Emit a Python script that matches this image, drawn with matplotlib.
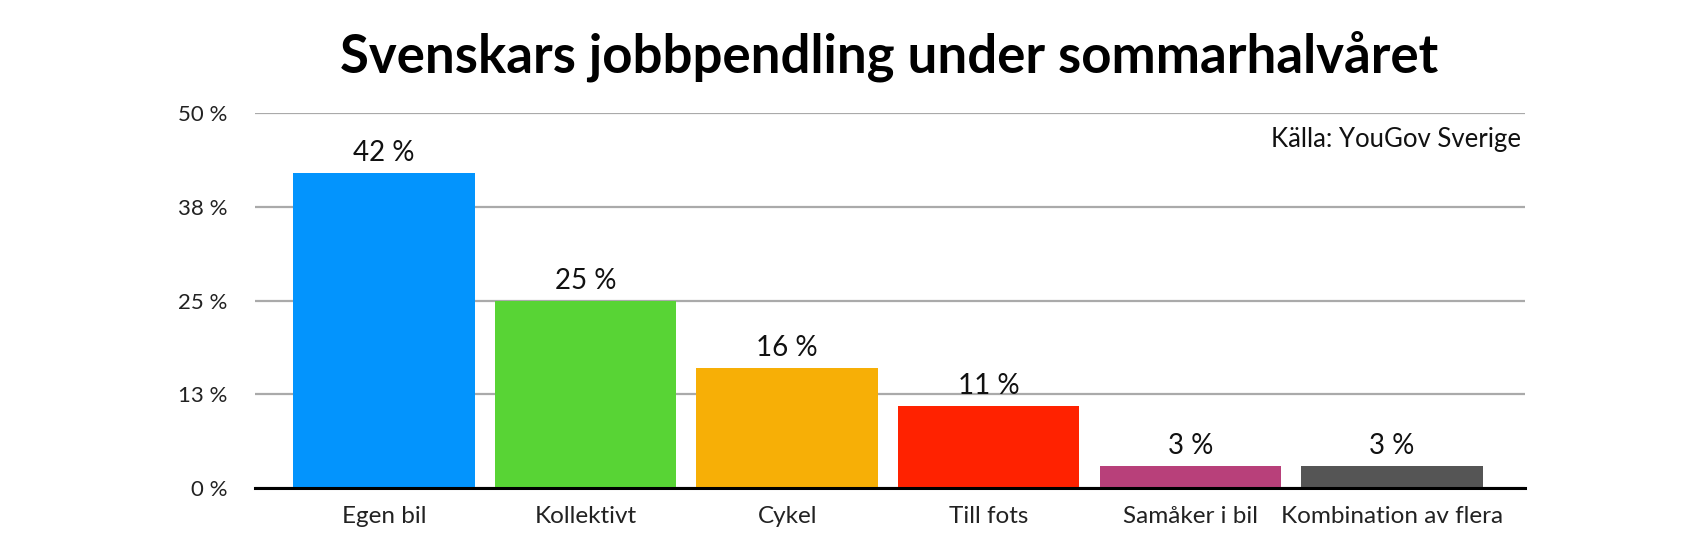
import numpy as np
import matplotlib.pyplot as plt

# data
kategorier = ["Egen bil", "Kollektivt", "Cykel", "Till fots", "Samåker i bil", "Kombination av flera"]
andel = [42, 25, 16, 11, 3, 3]
farger = ["#0394FD", "#58D435", "#F7AF06", "#FF2200", "#B8407A", "#555555"]
yticks = [0, 12.5, 25, 37.5, 50]
ytick_labels = ["0 %", "13 %", "25 %", "38 %", "50 %"]

plt.rcParams['font.family'] = ['Lato', 'DejaVu Sans']

fig = plt.figure(figsize=(17, 5.58), dpi=100)
ax = fig.add_axes([0.15, 0.1254, 0.747, 0.6721])

x = np.arange(len(kategorier))
ax.bar(x, andel, width=0.9, color=farger, zorder=3)

for xi, v in zip(x, andel):
    ax.annotate(f"{v} %", (xi, v), xytext=(0, 5), textcoords="offset points",
                ha="center", va="bottom", fontsize=20, color="#111111")

ax.set_xlim(-0.64, 5.66)
ax.set_ylim(0, 50)
ax.set_yticks(yticks)
ax.set_yticklabels(ytick_labels, fontsize=16, color="#222222")
ax.set_xticks(x)
ax.set_xticklabels(kategorier, fontsize=17.5, color="#222222")
ax.tick_params(axis="y", length=0, pad=20)
ax.tick_params(axis="x", length=0, pad=13)

ax.grid(axis="y", color="#AAAAAA", linewidth=1.6, zorder=0)
for s in ["top", "right", "left"]:
    ax.spines[s].set_visible(False)
ax.spines["bottom"].set_linewidth(2.2)
ax.spines["bottom"].set_color("black")
ax.spines["bottom"].set_zorder(4)

ax.text(0.997, 46.5, "Källa: YouGov Sverige", transform=ax.get_yaxis_transform(),
        ha="right", va="center", fontsize=18.5, color="#111111")

fig.text(0.523, 0.9, "Svenskars jobbpendling under sommarhalvåret",
         ha="center", va="center", fontsize=38, fontweight="bold", color="black")

fig.savefig("out.png", dpi=100)
